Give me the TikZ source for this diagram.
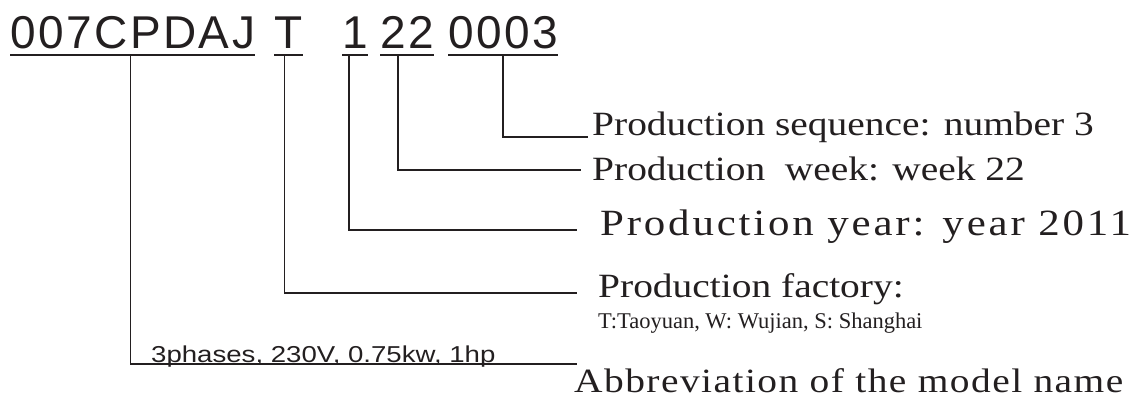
\documentclass[tikz,border=0pt]{standalone}
\usepackage{fontspec}
\setmainfont{Liberation Serif}
\newfontfamily\codefont[LetterSpace=5.4]{Liberation Sans}
\newfontfamily\notefont[FakeStretch=1.2]{Liberation Sans}
\newfontfamily\labelfont[FakeStretch=1.16]{Liberation Serif}
\newfontfamily\yearfont[FakeStretch=1.16,LetterSpace=7.6]{Liberation Serif}
\newfontfamily\namefont[FakeStretch=1.16,LetterSpace=4.3]{Liberation Serif}
\definecolor{ink}{RGB}{35,31,32}
\tikzset{
  code/.style={inner sep=0pt, anchor=base west, font=\codefont\fontsize{46}{46}\selectfont},
  infotext/.style={inner sep=0pt, anchor=base west, font=\labelfont\fontsize{34}{40}\selectfont},
  lead/.style={line width=1.2pt}
}
\begin{document}
\begin{tikzpicture}[x=1pt, y=-1pt, color=ink]
            \useasboundingbox (0,0) rectangle (1141,399);
            % the code
            \node[code] (model) at (10,48) {007CPDAJ};
            \node[code] (factory) at (274,48) {T};
            \node[code] (year) at (342,48) {1};
            \node[code] (week) at (380,48) {22};
            \node[code] (seq) at (448,48) {0003};
            \foreach \n in {model,factory,year,week,seq}
                \draw[line width=1.5pt] ([yshift=-7pt]\n.base west) -- ([yshift=-7pt]\n.base east);
            % what each part means
            \node[infotext] (seqtext) at (592,135) {Production sequence: number 3};
            \node[infotext] (weektext) at (592,180) {Production\ \ week: week 22};
            \node[infotext, font=\yearfont\fontsize{37}{40}\selectfont] (yeartext) at (600,235) {Production year: year 2011};
            \node[infotext] (factorytext) at (598,297) {Production factory:};
            \node[infotext, font=\rmfamily\fontsize{22.5}{24}\selectfont] (placetext) at (598,328) {T:Taoyuan, W: Wujian, S: Shanghai};
            \node[infotext, font=\notefont\fontsize{23}{24}\selectfont] (ratingtext) at (151,362) {3phases, 230V, 0.75kw, 1hp};
            \node[infotext, font=\namefont\fontsize{34}{40}\selectfont] (modeltext) at (574,392) {Abbreviation of the model name};
            % leaders
            \draw[lead] ([yshift=-7pt]seq.base) |- ([xshift=-4pt,yshift=-2pt]seqtext.base west);
            \draw[lead] ([xshift=-9pt,yshift=-7pt]week.base) |- ([xshift=-11pt,yshift=10pt]weektext.base west);
            \draw[lead] ([xshift=-6pt,yshift=-7pt]year.base) |- ([xshift=-23pt,yshift=5pt]yeartext.base west);
            \draw[lead] ([xshift=-4pt,yshift=-7pt]factory.base) |- ([xshift=-21pt,yshift=4pt]factorytext.base west);
            \draw[lead] ([xshift=-2pt,yshift=-7pt]model.base) |- ([xshift=426pt,yshift=-2pt]ratingtext.base west);
\end{tikzpicture}
\end{document}
